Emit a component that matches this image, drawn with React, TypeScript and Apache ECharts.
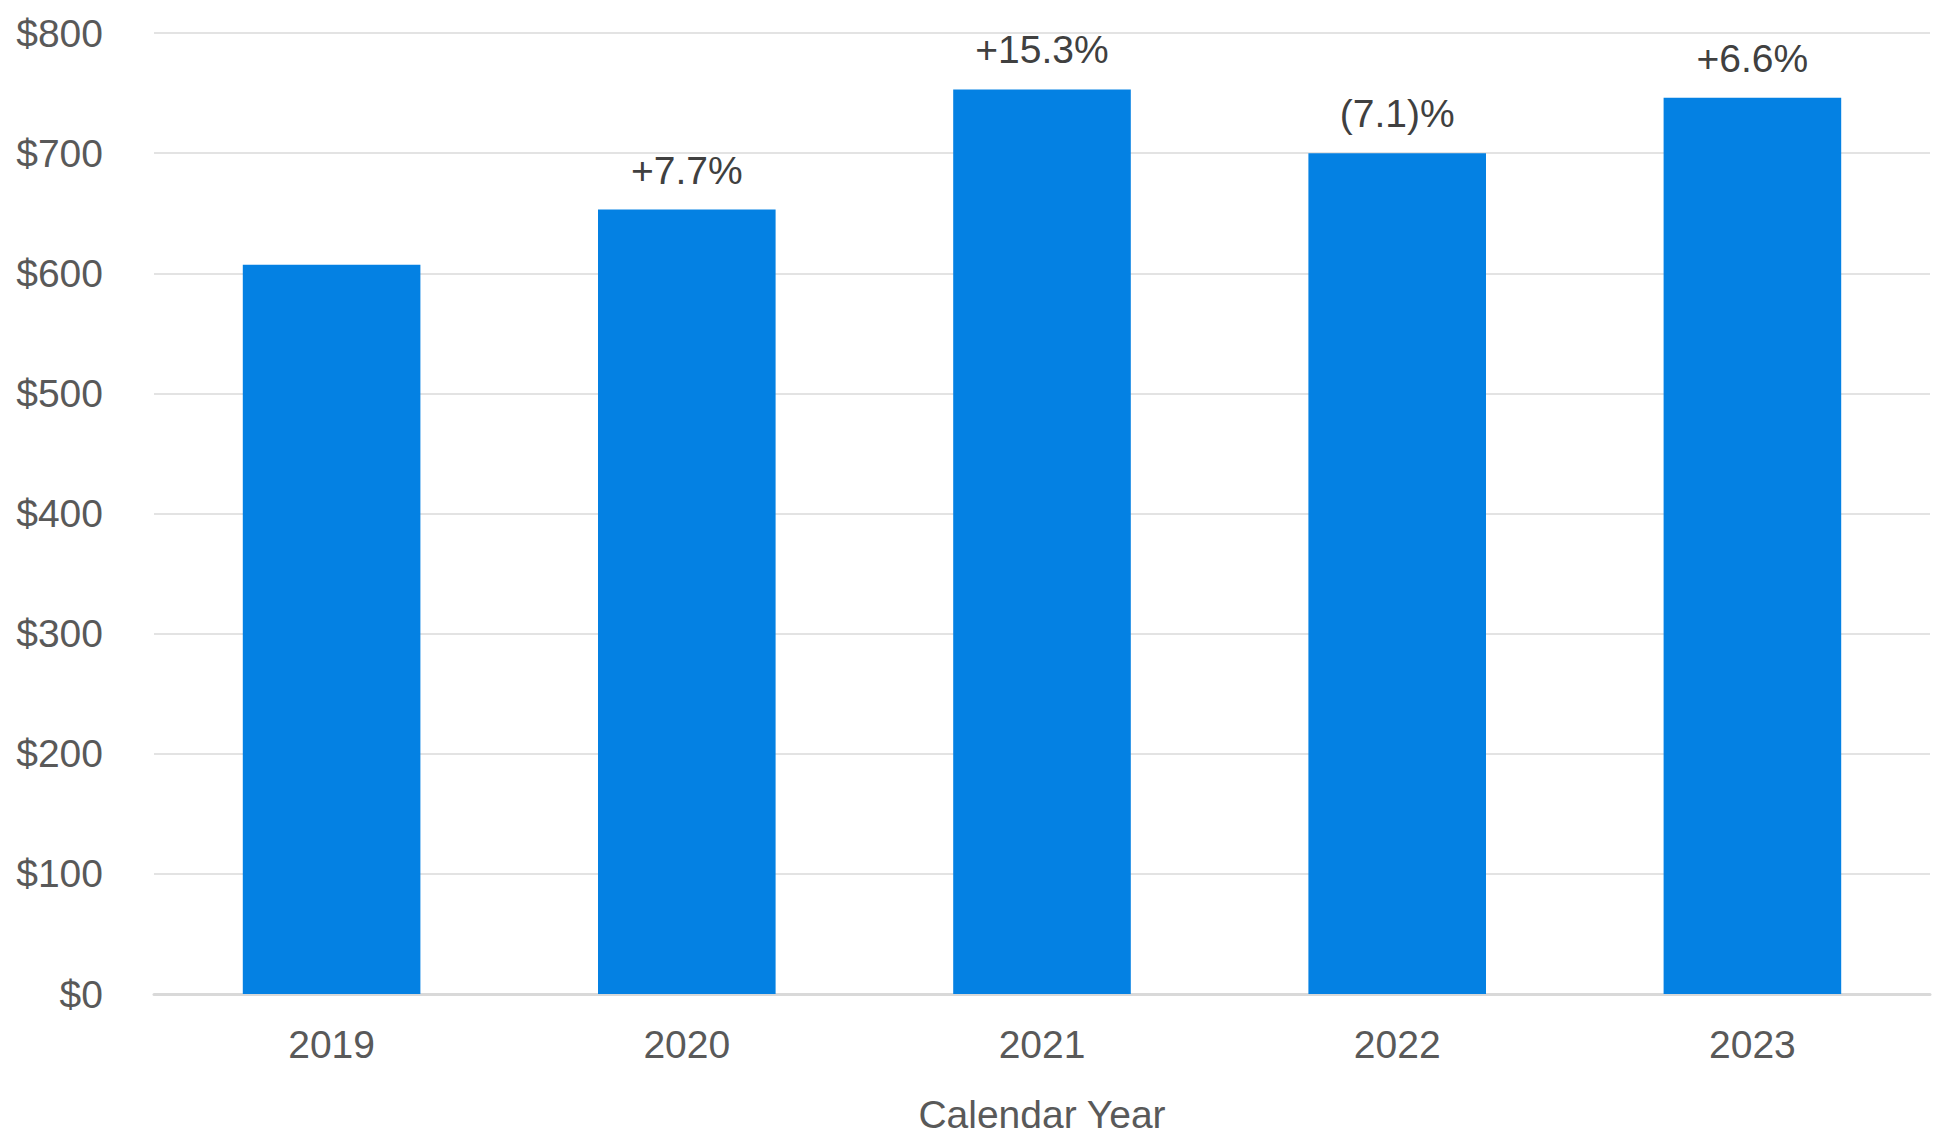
import React, { useEffect, useRef } from "react";
import * as echarts from "echarts";

// Annual totals by calendar year ($)
const years = ["2019", "2020", "2021", "2022", "2023"];
const totals = [607, 653, 753, 700, 746];
// Year-over-year change shown above each bar
const changeLabels = ["", "+7.7%", "+15.3%", "(7.1)%", "+6.6%"];
const yTicks = { min: 0, max: 800, interval: 100 };

const FONT = "'Liberation Sans', Arial, sans-serif";

export default function App() {
  const ref = useRef<HTMLDivElement>(null);

  useEffect(() => {
    if (!ref.current) return;
    const chart = echarts.init(ref.current, undefined, { renderer: "svg" });
    chart.setOption({
      animation: false,
      backgroundColor: "#ffffff",
      textStyle: { fontFamily: FONT },
      grid: { left: 154, right: 8, top: 33, bottom: 139, containLabel: false },
      xAxis: {
        type: "category",
        data: years,
        name: "Calendar Year",
        nameLocation: "middle",
        nameGap: 101,
        nameTextStyle: { fontSize: 39, color: "#595959", fontFamily: FONT },
        axisLine: { show: true, lineStyle: { color: "#d9d9d9", width: 3 } },
        axisTick: { show: false },
        axisLabel: { fontSize: 39, color: "#595959", margin: 31, fontFamily: FONT },
      },
      yAxis: {
        type: "value",
        min: yTicks.min,
        max: yTicks.max,
        interval: yTicks.interval,
        axisLine: { show: false },
        axisTick: { show: false },
        splitLine: { lineStyle: { color: "#e3e3e3", width: 2 } },
        axisLabel: {
          fontSize: 39,
          color: "#595959",
          margin: 51,
          fontFamily: FONT,
          formatter: (v: number) => "$" + v,
        },
      },
      series: [
        {
          type: "bar",
          data: totals,
          barWidth: "50%",
          itemStyle: { color: "#0481e3" },
          label: {
            show: true,
            position: "top",
            distance: 20,
            fontSize: 39,
            color: "#404040",
            fontFamily: FONT,
            formatter: (p: any) => changeLabels[p.dataIndex],
          },
        },
      ],
    });
    return () => chart.dispose();
  }, []);

  return (
    <div
      ref={ref}
      style={{ position: "absolute", left: 0, top: 0, width: 1938, height: 1139 }}
    />
  );
}
